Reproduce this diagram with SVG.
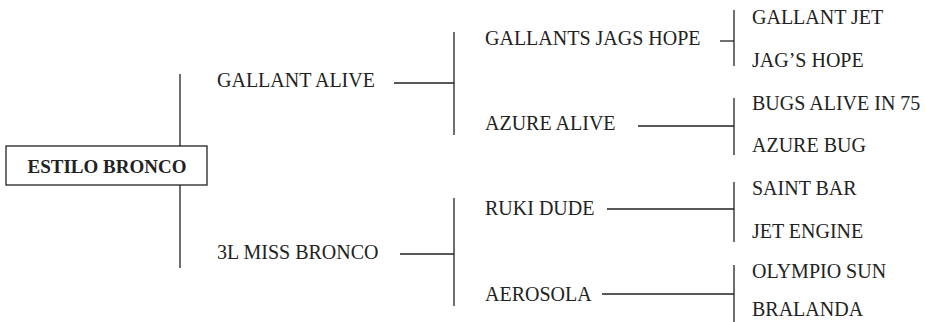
<svg xmlns="http://www.w3.org/2000/svg" width="925" height="322" viewBox="0 0 925 322">
<style>
text { font-family: "Liberation Serif", "Times New Roman", serif; font-size: 20px; fill: #222; }
.bold { font-weight: bold; font-size: 19px; }
.ln { stroke: #222; stroke-width: 1.3; fill: none; }
.box { fill: #fff; stroke: #222; stroke-width: 1.3; }
</style>
<rect width="925" height="322" fill="#fff"/>
<g id="connectors">
<line class="ln" x1="180" y1="74" x2="180" y2="268"/>
<line class="ln" x1="394" y1="83" x2="454" y2="83"/>
<line class="ln" x1="454" y1="32" x2="454" y2="135"/>
<line class="ln" x1="400" y1="254" x2="454" y2="254"/>
<line class="ln" x1="454" y1="198" x2="454" y2="306"/>
<line class="ln" x1="720" y1="41" x2="734" y2="41"/>
<line class="ln" x1="734" y1="10" x2="734" y2="66"/>
<line class="ln" x1="638" y1="126" x2="734" y2="126"/>
<line class="ln" x1="734" y1="98" x2="734" y2="155"/>
<line class="ln" x1="607" y1="209" x2="734" y2="209"/>
<line class="ln" x1="734" y1="182" x2="734" y2="242"/>
<line class="ln" x1="602" y1="294" x2="734" y2="294"/>
<line class="ln" x1="734" y1="265" x2="734" y2="322"/>
</g>
<g id="estilo-bronco">
<rect class="box" x="6" y="146" width="201" height="39"/>
<text class="bold" x="107" y="173" text-anchor="middle">ESTILO BRONCO</text>
</g>
<g id="gallant-alive"><text x="217" y="87">GALLANT ALIVE</text></g>
<g id="miss-bronco"><text x="217" y="259">3L MISS BRONCO</text></g>
<g id="gallants-jags-hope"><text x="485" y="45">GALLANTS JAGS HOPE</text></g>
<g id="azure-alive"><text x="485" y="130">AZURE ALIVE</text></g>
<g id="ruki-dude"><text x="485" y="215">RUKI DUDE</text></g>
<g id="aerosola"><text x="485" y="301">AEROSOLA</text></g>
<g id="gallant-jet"><text x="752" y="24">GALLANT JET</text></g>
<g id="jags-hope"><text x="752" y="67">JAG’S HOPE</text></g>
<g id="bugs-alive"><text x="752" y="110">BUGS ALIVE IN 75</text></g>
<g id="azure-bug"><text x="752" y="152">AZURE BUG</text></g>
<g id="saint-bar"><text x="752" y="195">SAINT BAR</text></g>
<g id="jet-engine"><text x="752" y="238">JET ENGINE</text></g>
<g id="olympio-sun"><text x="752" y="278">OLYMPIO SUN</text></g>
<g id="bralanda"><text x="752" y="316">BRALANDA</text></g>
</svg>
